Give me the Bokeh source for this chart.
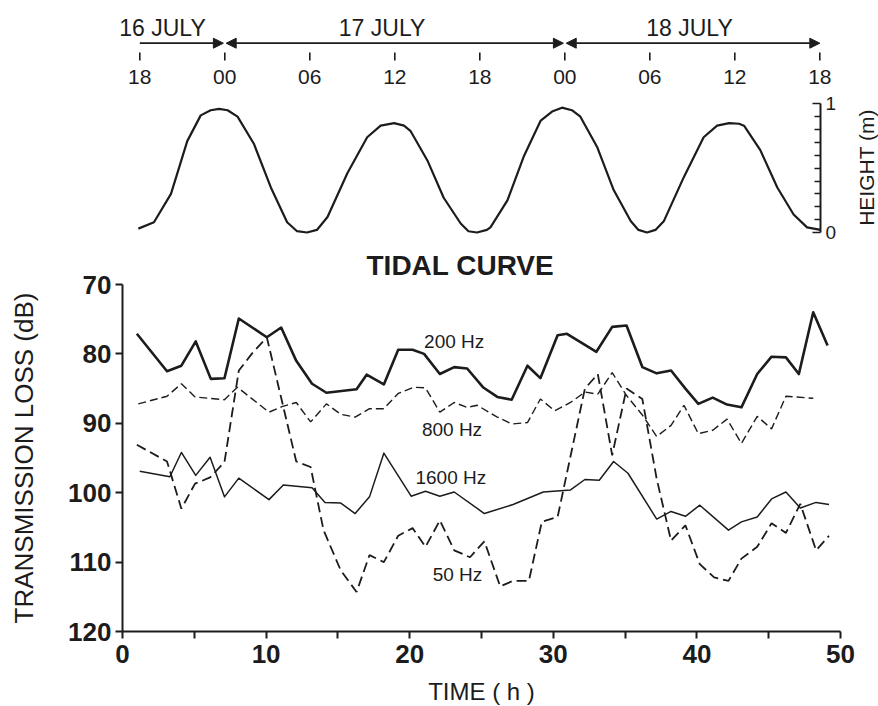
import math
from bokeh.plotting import figure
from bokeh.models import Range1d, LinearAxis, FixedTicker, Arrow, NormalHead
from bokeh.layouts import row
from bokeh.embed import file_html
from bokeh.resources import INLINE
from bokeh.core.properties import value

# ---------------- data ----------------
# tidal curve: hours after 18:00 on 16 July, height in metres
tide_hours = [-0.1, 1.0, 2.2, 3.35, 4.3, 5.0, 5.6, 6.2, 6.9, 8.05, 9.25, 10.4, 11.1, 11.8, 12.5,
              13.25, 14.65, 16.05, 17.0, 17.95, 18.65, 19.1, 20.3, 21.45, 22.65, 23.2, 23.8, 24.5,
              24.75, 25.95, 27.1, 28.3, 29.1, 29.8, 30.5, 31.1, 32.3, 33.45, 34.65, 35.2, 35.8, 36.4,
              37.0, 38.4, 39.8, 40.75, 41.6, 42.3, 42.65, 43.8, 45.0, 46.15, 47.1, 48.05]
tide_height = [0.03, 0.08, 0.30, 0.71, 0.91, 0.95, 0.96, 0.95, 0.90, 0.69, 0.35, 0.08, 0.01, 0.0, 0.02,
               0.12, 0.46, 0.74, 0.83, 0.85, 0.83, 0.79, 0.56, 0.27, 0.07, 0.01, 0.0, 0.02,
               0.04, 0.25, 0.59, 0.87, 0.94, 0.97, 0.95, 0.90, 0.66, 0.33, 0.09, 0.02, 0.0, 0.02,
               0.09, 0.43, 0.74, 0.83, 0.85, 0.845, 0.83, 0.64, 0.35, 0.14, 0.04, 0.02]

clock_hours = [0, 6, 12, 18, 24, 30, 36, 42, 48]
clock_labels = ["18", "00", "06", "12", "18", "00", "06", "12", "18"]
day_names = ["16 JULY", "17 JULY", "18 JULY"]
day_start = [0, 6, 30]
day_end = [6, 30, 48]

# transmission loss (dB) against time (h)
t_200 = [1.0, 3.1, 4.1, 5.1, 6.15, 7.1, 8.1, 10.05, 11.05, 12.1, 13.2, 14.2, 16.3, 17.0,
         18.2, 19.2, 20.2, 21.0, 22.1, 23.1, 24.0, 25.1, 26.1, 27.1, 28.2, 29.1, 30.3,
         30.95, 33.0, 34.1, 35.1, 36.2, 37.2, 38.2, 39.2, 40.1, 41.1, 42.1, 43.1, 44.2,
         45.2, 46.2, 47.1, 48.1, 49.1]
tl_200 = [77.1, 82.5, 81.7, 78.2, 83.6, 83.5, 74.9, 77.6, 76.2, 81.0, 84.3, 85.6, 85.1, 83.0,
          84.4, 79.4, 79.4, 80.0, 82.9, 81.9, 82.1, 84.8, 86.2, 86.6, 81.7, 83.5, 77.3,
          77.1, 79.7, 76.1, 75.9, 81.9, 82.8, 82.4, 85.0, 87.2, 86.3, 87.3, 87.7, 82.9,
          80.4, 80.5, 82.9, 74.0, 78.8]

t_800 = [1.1, 3.1, 4.1, 5.05, 7.1, 8.0, 10.2, 11.1, 12.1, 13.1, 14.2, 15.2, 16.2, 17.2,
         18.2, 19.2, 20.3, 21.1, 22.1, 23.1, 24.0, 24.7, 26.1, 27.1, 28.2, 29.1, 30.1,
         31.2, 32.2, 33.1, 34.1, 35.1, 36.2, 37.2, 38.2, 39.1, 40.1, 41.1, 42.1, 43.1,
         44.2, 45.2, 46.2, 48.1]
tl_800 = [87.2, 86.1, 84.3, 86.2, 86.6, 84.8, 88.4, 87.6, 87.0, 89.8, 87.2, 88.7, 89.1, 87.9,
          87.9, 85.7, 84.8, 84.9, 88.4, 87.0, 87.7, 87.4, 89.1, 90.1, 89.9, 86.5, 88.2,
          87.0, 85.5, 85.8, 82.7, 86.0, 88.8, 91.9, 90.3, 87.4, 91.5, 91.0, 89.4, 92.9,
          89.0, 90.8, 86.1, 86.4]

t_1600 = [1.2, 3.3, 4.1, 5.1, 6.1, 7.1, 8.1, 10.2, 11.2, 13.2, 14.1, 15.2, 16.2, 17.2,
          18.2, 20.1, 21.1, 22.1, 23.1, 25.2, 27.2, 29.3, 31.2, 32.2, 33.2, 34.2, 35.2,
          37.2, 38.2, 39.2, 40.2, 42.2, 43.1, 44.2, 45.2, 46.2, 47.2, 48.3, 49.2]
tl_1600 = [96.9, 97.7, 94.2, 97.5, 94.9, 100.6, 97.9, 101.0, 98.9, 99.3, 101.4, 101.5, 103.0, 100.6,
           94.3, 100.5, 99.8, 100.5, 99.9, 103.0, 101.7, 99.9, 99.6, 98.1, 98.2, 95.5, 97.2,
           103.8, 102.7, 103.4, 101.8, 105.4, 104.2, 103.5, 100.9, 99.9, 102.2, 101.4, 101.7]

t_50 = [1.0, 3.1, 4.1, 5.05, 6.1, 7.1, 8.1, 9.0, 10.05, 12.1, 13.1, 14.0, 15.2, 16.3, 17.2,
        18.2, 19.2, 20.2, 21.1, 22.1, 23.1, 24.2, 25.2, 26.3, 27.2, 28.3, 29.2, 30.3,
        32.2, 33.1, 34.1, 35.1, 36.2, 37.2, 38.2, 39.2, 40.2, 41.2, 42.2, 43.1, 44.2,
        45.2, 46.2, 47.2, 48.3, 49.2]
tl_50 = [93.1, 95.5, 102.3, 98.7, 97.8, 95.6, 82.4, 80.0, 77.6, 95.5, 96.3, 105.4, 111.2, 114.3, 109.0,
         110.0, 106.2, 105.1, 107.8, 104.0, 108.3, 109.3, 107.0, 113.5, 112.7, 112.7, 104.2, 103.5,
         85.0, 82.9, 94.6, 85.0, 86.5, 98.0, 106.9, 104.7, 110.3, 112.2, 112.7, 109.5, 107.8,
         104.4, 105.8, 101.6, 108.3, 106.2]

x_ticks = [0, 5, 10, 15, 20, 25, 30, 35, 40, 45, 50]
y_ticks = [70, 80, 90, 100, 110, 120]
series_names = ["200 Hz", "800 Hz", "1600 Hz", "50 Hz"]

# ---------------- style / layout ----------------
INK = "#1c1c1c"
FONT = "Liberation Sans"
W = 878
STRIP_H = 90        # clock / date strip
TIDE_BOTTOM = 242   # page row where the tidal panel ends
MAIN_TOP_B = 284 - TIDE_BOTTOM

AX_PX = 820.0       # pixel column of the height axis
T0_PX = 139.3       # pixel column of the first clock tick
PX_PER_H = 14.167
ZERO_PY = 232.0
PX_PER_M = 128.7


def t_at(px):
    return (px - T0_PX) / PX_PER_H


def h_at(py):
    return (ZERO_PY - py) / PX_PER_M


def bare(fig):
    fig.grid.visible = False
    fig.outline_line_color = None
    fig.background_fill_color = "white"
    fig.border_fill_color = "white"
    return fig


# ---- clock / date strip ----
strip = bare(figure(frame_width=W, frame_height=STRIP_H,
                    x_range=Range1d(t_at(0), t_at(W)),
                    y_range=Range1d(h_at(STRIP_H), h_at(0)),
                    output_backend="svg", toolbar_location=None,
                    x_axis_location=None, y_axis_location=None,
                    min_border=0))

strip.segment(x0=clock_hours, y0=[h_at(60)] * len(clock_hours),
              x1=clock_hours, y1=[h_at(52)] * len(clock_hours),
              line_width=1.6, color=INK)
strip.text(x=clock_hours, y=[h_at(76)] * len(clock_hours), text=clock_labels,
           text_align="center", text_baseline="middle",
           text_font=value(FONT), text_font_size="21px", text_color=INK)

arrow_y = h_at(42.7)
gap = 0.1
for a, b in zip(day_start, day_end):
    head_kw = dict(size=10, fill_color=INK, line_color=INK, line_width=1)
    strip.add_layout(Arrow(x_start=a + (gap if a > 0 else 0), y_start=arrow_y,
                           x_end=b - (gap if b < 48 else 0), y_end=arrow_y,
                           start=NormalHead(**head_kw) if a > 0 else None,
                           end=NormalHead(**head_kw),
                           line_width=1.8, line_color=INK))
day_label_x = [1.6, 17.1, 38.8]
strip.text(x=day_label_x, y=[h_at(27)] * 3, text=day_names,
           text_align="center", text_baseline="middle",
           text_font=value(FONT), text_font_size="23px", text_color=INK)

# ---- tidal curve panel ----
RIGHT_B = 28
tide = bare(figure(frame_width=int(AX_PX), frame_height=TIDE_BOTTOM - STRIP_H,
                   x_range=Range1d(t_at(0), t_at(AX_PX)),
                   y_range=Range1d(h_at(TIDE_BOTTOM), h_at(STRIP_H)),
                   output_backend="svg", toolbar_location=None,
                   x_axis_location=None, y_axis_location=None,
                   min_border_left=0, min_border_top=0, min_border_bottom=0,
                   min_border_right=RIGHT_B))
tide.line(tide_hours, tide_height, line_width=2.2, color=INK, line_join="round")

hax = LinearAxis(ticker=FixedTicker(ticks=[0, 1], minor_ticks=[i / 10 for i in range(1, 10)]),
                 bounds=(0, 1),
                 major_tick_in=8, major_tick_out=0, minor_tick_in=6, minor_tick_out=0,
                 axis_line_width=2, axis_line_color=INK,
                 major_tick_line_width=1.6, major_tick_line_color=INK,
                 minor_tick_line_width=1.4, minor_tick_line_color=INK,
                 major_label_standoff=5,
                 major_label_text_font=FONT, major_label_text_font_size="19px",
                 major_label_text_color=INK)
tide.add_layout(hax, "right")

lab_w = W - int(AX_PX) - RIGHT_B
hlab = bare(figure(frame_width=lab_w, frame_height=TIDE_BOTTOM - STRIP_H,
                   x_range=Range1d(0, lab_w), y_range=Range1d(h_at(TIDE_BOTTOM), h_at(STRIP_H)),
                   output_backend="svg", toolbar_location=None,
                   x_axis_location=None, y_axis_location=None, min_border=0))
hlab.text(x=[866 - AX_PX - RIGHT_B], y=[h_at(167)], text=["HEIGHT (m)"], angle=math.pi / 2,
          text_align="center", text_baseline="middle",
          text_font=value(FONT), text_font_size="21px", text_color=INK)

# ---------------- main panel ----------------
main = bare(figure(frame_width=718, frame_height=347,
                   x_range=Range1d(0, 50), y_range=Range1d(120, 70),
                   output_backend="svg", toolbar_location=None,
                   min_border_left=122, min_border_right=38,
                   min_border_top=MAIN_TOP_B, min_border_bottom=75,
                   title="TIDAL CURVE"))
main.title.align = "left"
main.title.offset = 244
main.title.standoff = 7
main.title.text_font = FONT
main.title.text_font_size = "28px"
main.title.text_font_style = "bold"
main.title.text_color = INK

for ax in (main.xaxis[0], main.yaxis[0]):
    ax.axis_line_width = 2
    ax.axis_line_color = INK
    ax.major_tick_line_width = 2
    ax.major_tick_line_color = INK
    ax.major_tick_in = 0
    ax.major_tick_out = 7
    ax.minor_tick_line_color = None
    ax.major_label_text_font = FONT
    ax.major_label_text_font_size = "26px"
    ax.major_label_text_font_style = "bold"
    ax.major_label_text_color = INK
    ax.axis_label_text_font = FONT
    ax.axis_label_text_font_style = "normal"
    ax.axis_label_text_color = INK

main.xaxis.ticker = FixedTicker(ticks=x_ticks)
main.xaxis.major_label_overrides = {t: "" for t in x_ticks if t % 10}
main.xaxis.axis_label = "TIME ( h )"
main.xaxis.axis_label_text_font_size = "24px"
main.xaxis.major_label_standoff = 6
main.xaxis.axis_label_standoff = 12

main.yaxis.ticker = FixedTicker(ticks=y_ticks)
main.yaxis.axis_label = "TRANSMISSION LOSS (dB)"
main.yaxis.axis_label_text_font_size = "26px"
main.yaxis.major_label_standoff = 4
main.yaxis.axis_label_standoff = 26

main.line(t_200, tl_200, line_width=2.6, color=INK, line_join="round")
main.line(t_1600, tl_1600, line_width=1.5, color=INK, line_join="round")
main.line(t_800, tl_800, line_width=1.4, color=INK, line_dash="8 4")
main.line(t_50, tl_50, line_width=1.8, color=INK, line_dash="10 5")

label_x = [21.0, 20.85, 20.4, 21.6]
label_y = [78.2, 90.9, 97.8, 111.8]
main.text(x=label_x, y=label_y, text=series_names,
          text_align="left", text_baseline="middle",
          text_font=value(FONT), text_font_size="19px", text_color=INK)

open("out.html", "w").write(file_html([strip, row(tide, hlab), main], INLINE))
